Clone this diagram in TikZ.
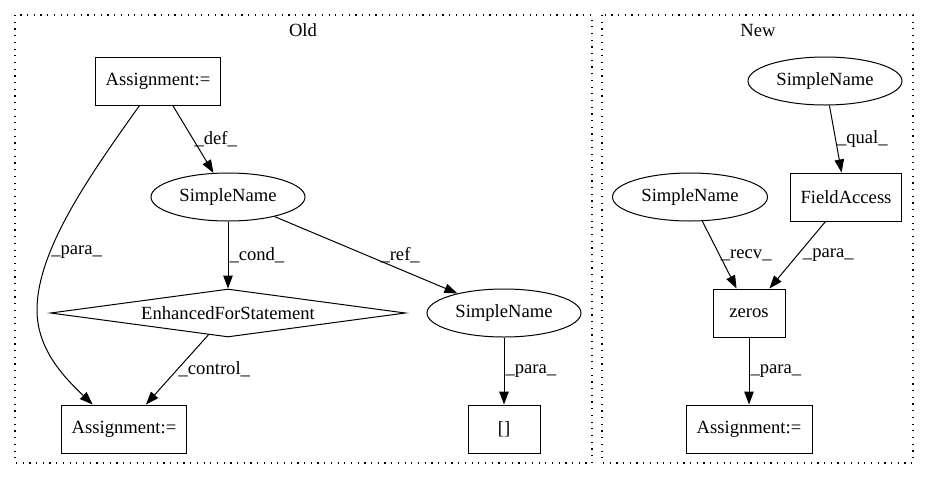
\documentclass[tikz,border=0pt]{standalone}
\usepackage{fontspec}
\setmainfont{Liberation Serif}
\usetikzlibrary{arrows.meta, shapes, positioning}

\begin{document}
\begin{tikzpicture}[x=1pt, y=-1pt, font=\fontsize{18.6}{22}\selectfont,
        box/.style={draw, rectangle, minimum height=48pt, inner sep=0pt, line width=1pt},
        oval/.style={draw, ellipse, minimum width=154pt, minimum height=48pt, inner sep=0pt, line width=1pt},
        cond/.style={draw, diamond, aspect=7.4, minimum width=355pt, minimum height=48pt, inner sep=0pt, line width=1pt},
        edge/.style={-{Triangle[length=13pt, width=9.5pt]}, line width=1pt},
        lbl/.style={midway, anchor=west, inner sep=1pt},
        cluster/.style={dash pattern=on 1.2pt off 5.5pt, line width=1.2pt}]
        \useasboundingbox (0,0) rectangle (929,480);

        % Old
        \draw[cluster] (15,15) rectangle (592,463);
        \node (old) at (303,30) {Old};
        \node[box, minimum width=125pt] (asgA) at (158,81) {Assignment:=};
        \node[oval] (nameA) at (228,197) {SimpleName};
        \node[cond] (loop) at (228,313) {EnhancedForStatement};
        \node[oval] (nameB) at (504,313) {SimpleName};
        \node[box, minimum width=72pt] (arr) at (504,429) {[]};
        \node[box, minimum width=125pt] (asgB) at (124,429) {Assignment:=};

        \draw[edge] (asgA) -- (nameA) node[lbl] {\_def\_};
        \draw[edge] (asgA.233) .. controls (90,175) and (37,250) .. node[lbl, pos=0.7] {\_para\_} (37,310)
            .. controls (37,350) and (65,378) .. (asgB.142);
        \draw[edge] (nameA) -- (loop) node[lbl] {\_cond\_};
        \draw[edge] (nameA) -- (nameB) node[lbl, xshift=13pt] {\_ref\_};
        \draw[edge] (loop) -- (asgB) node[lbl] {\_control\_};
        \draw[edge] (nameB) -- (arr) node[lbl] {\_para\_};

        % New
        \draw[cluster] (602,15) rectangle (913,463);
        \node (new) at (758,30) {New};
        \node[oval] (nameC) at (825,81) {SimpleName};
        \node[box, minimum width=111pt] (field) at (846,197) {FieldAccess};
        \node[oval, minimum width=155pt] (nameD) at (690,197) {SimpleName};
        \node[box, minimum width=72pt] (zeros) at (749,313) {zeros};
        \node[box, minimum width=126pt] (asgC) at (749,429) {Assignment:=};

        \draw[edge] (nameC) -- (field) node[lbl] {\_qual\_};
        \draw[edge] (nameD) -- (zeros) node[lbl] {\_recv\_};
        \draw[edge] (field) -- (zeros) node[lbl, xshift=4pt] {\_para\_};
        \draw[edge] (zeros) -- (asgC) node[lbl] {\_para\_};
    \end{tikzpicture}
\end{document}
